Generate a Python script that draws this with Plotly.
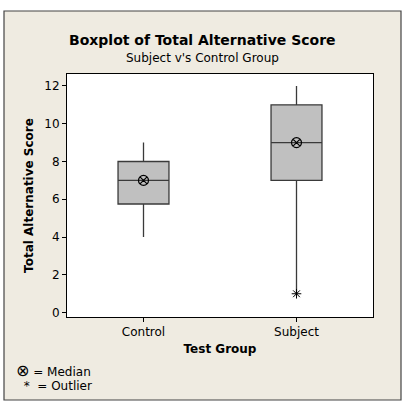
import plotly.graph_objects as go

groups = ["Control", "Subject"]
q1 = [5.75, 7]
median = [7, 9]
q3 = [8, 11]
lower_whisker = [4, 1]
upper_whisker = [9, 12]
outlier_group = ["Subject"]
outlier_value = [1]

W, H = 409, 402
L, R, T, B = 67, 36, 74, 85
pw, ph = W - L - R, H - T - B

def px_x(x):
    return (x - L) / pw

def px_y(y):
    return (H - B - y) / ph

fig = go.Figure()
fig.add_trace(go.Box(
    x=groups, q1=q1, median=median, q3=q3,
    lowerfence=lower_whisker, upperfence=upper_whisker,
    fillcolor="#C0C0C0", line=dict(color="#3A3A3A", width=1.3),
    whiskerwidth=0, width=0.333, boxpoints=False, hoverinfo="skip",
    showlegend=False,
))
fig.add_trace(go.Scatter(
    x=groups, y=median, mode="markers",
    marker=dict(symbol="circle-x-open", size=10, color="black", line=dict(width=1.2)),
    showlegend=False, hoverinfo="skip",
))
fig.add_trace(go.Scatter(
    x=outlier_group, y=outlier_value, mode="markers",
    marker=dict(symbol="asterisk-open", size=8, color="black", line=dict(width=1, color="black")),
    showlegend=False, hoverinfo="skip",
))

font = "DejaVu Sans"
fig.update_layout(
    width=W, height=H,
    margin=dict(l=L, r=R, t=T, b=B),
    paper_bgcolor="white", plot_bgcolor="white",
    font=dict(family=font, size=12, color="black"),
    shapes=[
        dict(type="rect", xref="paper", yref="paper", layer="below",
             x0=px_x(4), x1=px_x(401), y0=px_y(400), y1=px_y(11),
             fillcolor="#EFEBE1", line=dict(color="#444444", width=1.2)),
        dict(type="rect", xref="paper", yref="paper", layer="below",
             x0=0, x1=1, y0=0, y1=1, fillcolor="white", line=dict(width=0)),
    ],
    annotations=[
        dict(text="<b>Boxplot of Total Alternative Score</b>", x=px_x(202), y=px_y(40),
             xref="paper", yref="paper", showarrow=False, font=dict(size=14, family=font),
             xanchor="center", yanchor="middle"),
        dict(text="Subject v's Control Group", x=px_x(202), y=px_y(58),
             xref="paper", yref="paper", showarrow=False, font=dict(size=12, family=font),
             xanchor="center", yanchor="middle"),
        dict(text="<span style='font-size:16px'>⊗</span> = Median", x=px_x(14), y=px_y(370),
             xref="paper", yref="paper", showarrow=False, font=dict(size=12, family=font),
             xanchor="left", yanchor="middle"),
        dict(text="  *  = Outlier", x=px_x(14), y=px_y(386),
             xref="paper", yref="paper", showarrow=False, font=dict(size=12, family=font),
             xanchor="left", yanchor="middle"),
    ],
    xaxis=dict(
        type="category", range=[-0.5, 1.5], showline=True, linecolor="black", linewidth=1,
        mirror=True, ticks="outside", ticklen=4, tickcolor="black", showgrid=False,
        title=dict(text="<b>Test Group</b>", standoff=6, font=dict(size=12)),
        tickfont=dict(size=12),
    ),
    yaxis=dict(
        range=[-0.23, 12.63], tickvals=[0, 2, 4, 6, 8, 10, 12], showline=True,
        linecolor="black", linewidth=1, mirror=True, ticks="outside", ticklen=4,
        tickcolor="black", showgrid=False, zeroline=False,
        title=dict(text="<b>Total Alternative Score</b>", standoff=8, font=dict(size=12)),
        tickfont=dict(size=12),
    ),
)

fig.write_html("out.html", config={"displayModeBar": False},
               post_script="document.body.style.margin='0';")
